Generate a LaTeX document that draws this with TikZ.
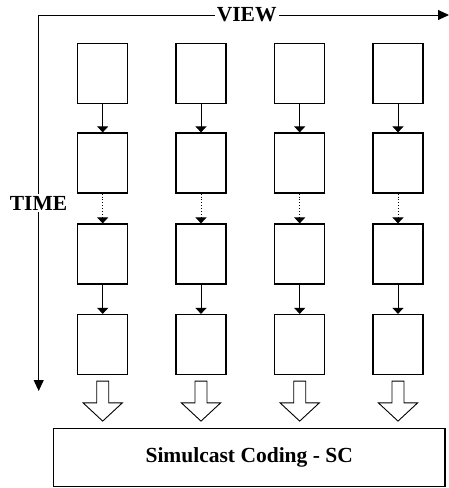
\documentclass[tikz,border=0pt]{standalone}
\usepackage{fontspec}
\setmainfont{Liberation Serif}
\usepackage{tikz}
\usetikzlibrary{arrows.meta,calc}

\begin{document}
\begin{tikzpicture}[x=1pt, y=-1pt,
  frame/.style={draw, line width=1.2pt, minimum width=50pt, minimum height=60pt, inner sep=0pt},
  link/.style={-{Triangle[width=11pt,length=6pt]}, line width=0.9pt},
  linkdot/.style={link, dotted},
  axis/.style={-{Triangle[width=10pt,length=11pt]}, line width=0.9pt},
  bigarrow/.style={draw, line width=0.9pt, fill=white, line join=miter},
  lbl/.style={font=\fontsize{21.5}{24}\selectfont\bfseries, fill=white, inner sep=2pt}]

\useasboundingbox (0,0) rectangle (448,488);

% ================= eixos =================
\coordinate (orig) at (38.7,15);
\coordinate (viewend) at (449,15);
\coordinate (timeend) at (38.7,391);
\draw[axis] (orig) -- (viewend);
\draw[axis] (orig) -- (timeend);
\node[lbl] (view) at (246.7,15) {VIEW};
\node[lbl] (time) at (38.5,203) {TIME};

% ================= coluna 1 =================
\node[frame] (f11) at (102.7,73.5) {};
\node[frame] (f12) at (102.7,163) {};
\node[frame] (f13) at (102.7,254) {};
\node[frame] (f14) at (102.7,344.5) {};
\draw[link] (f11) -- (f12);
\draw[linkdot] (f12) -- (f13);
\draw[link] (f13) -- (f14);

% ================= coluna 2 =================
\node[frame] (f21) at (201,73.5) {};
\node[frame] (f22) at (201,163) {};
\node[frame] (f23) at (201,254) {};
\node[frame] (f24) at (201,344.5) {};
\draw[link] (f21) -- (f22);
\draw[linkdot] (f22) -- (f23);
\draw[link] (f23) -- (f24);

% ================= coluna 3 =================
\node[frame] (f31) at (299.7,73.5) {};
\node[frame] (f32) at (299.7,163) {};
\node[frame] (f33) at (299.7,254) {};
\node[frame] (f34) at (299.7,344.5) {};
\draw[link] (f31) -- (f32);
\draw[linkdot] (f32) -- (f33);
\draw[link] (f33) -- (f34);

% ================= coluna 4 =================
\node[frame] (f41) at (398,73.5) {};
\node[frame] (f42) at (398,163) {};
\node[frame] (f43) at (398,254) {};
\node[frame] (f44) at (398,344.5) {};
\draw[link] (f41) -- (f42);
\draw[linkdot] (f42) -- (f43);
\draw[link] (f43) -- (f44);

% ================= codificador =================
\node[frame, minimum width=391.7pt, minimum height=58.4pt,
  font=\fontsize{21.5}{24}\selectfont\bfseries] (sc) at (249.2,457.5) {Simulcast Coding - SC};

% setas ocas
\draw[bigarrow] ($(f14.south)+(-6,6)$) -- ++(0,21.7) -- ++(-13.7,0) -- ++(19.7,18.3)
  -- ++(19.7,-18.3) -- ++(-13.7,0) -- ++(0,-21.7) -- cycle;
\draw[bigarrow] ($(f24.south)+(-6,6)$) -- ++(0,21.7) -- ++(-13.7,0) -- ++(19.7,18.3)
  -- ++(19.7,-18.3) -- ++(-13.7,0) -- ++(0,-21.7) -- cycle;
\draw[bigarrow] ($(f34.south)+(-6,6)$) -- ++(0,21.7) -- ++(-13.7,0) -- ++(19.7,18.3)
  -- ++(19.7,-18.3) -- ++(-13.7,0) -- ++(0,-21.7) -- cycle;
\draw[bigarrow] ($(f44.south)+(-6,6)$) -- ++(0,21.7) -- ++(-13.7,0) -- ++(19.7,18.3)
  -- ++(19.7,-18.3) -- ++(-13.7,0) -- ++(0,-21.7) -- cycle;

\end{tikzpicture}
\end{document}
